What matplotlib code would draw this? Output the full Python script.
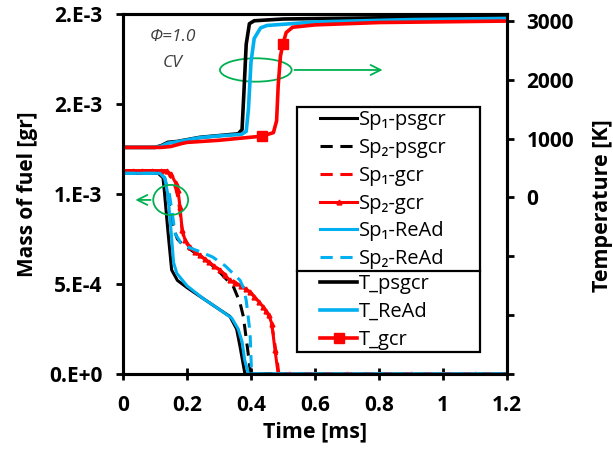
import matplotlib
matplotlib.use("Agg")
import matplotlib.pyplot as plt
from matplotlib.patches import Ellipse, Rectangle
from matplotlib.lines import Line2D
from matplotlib.ticker import FixedLocator, FuncFormatter

plt.rcParams['font.family'] = ['Open Sans', 'DejaVu Sans']

# ---- fuel mass [gr] vs time [ms] ----
t_sp1_psgcr = [0, 0.11, 0.125, 0.13, 0.14, 0.152, 0.17, 0.20, 0.25, 0.30, 0.334, 0.355, 0.366, 0.375, 0.381, 1.2]
m_sp1_psgcr = [1.115e-3, 1.115e-3, 1.09e-3, 1.0e-3, 0.8e-3, 0.578e-3, 0.52e-3, 0.48e-3, 0.42e-3,
               0.36e-3, 0.32e-3, 0.25e-3, 0.15e-3, 0.06e-3, 0.0, 0.0]

t_sp2_psgcr = [0, 0.11, 0.13, 0.14, 0.15, 0.16, 0.17, 0.183, 0.22, 0.26, 0.30, 0.345, 0.365, 0.376, 0.39, 0.399, 1.2]
m_sp2_psgcr = [1.115e-3, 1.115e-3, 1.09e-3, 1.0e-3, 0.88e-3, 0.80e-3, 0.75e-3, 0.726e-3, 0.68e-3,
               0.633e-3, 0.57e-3, 0.485e-3, 0.40e-3, 0.32e-3, 0.13e-3, 0.0, 0.0]

t_sp1_gcr = [0, 0.12, 0.14, 0.155, 0.165, 0.172, 0.178, 0.185, 0.192, 0.21, 0.25, 0.30, 0.35, 0.40,
             0.44, 0.46, 0.47, 0.48, 0.487, 1.2]
m_sp1_gcr = [1.13e-3, 1.13e-3, 1.12e-3, 1.08e-3, 1.03e-3, 0.98e-3, 0.90e-3, 0.80e-3, 0.74e-3, 0.70e-3,
             0.645e-3, 0.58e-3, 0.51e-3, 0.45e-3, 0.37e-3, 0.31e-3, 0.22e-3, 0.10e-3, 0.0, 0.0]

t_sp2_gcr = [0, 0.03, 0.06, 0.09, 0.12, 0.136, 0.15, 0.165, 0.172, 0.178, 0.185, 0.194, 0.209, 0.225,
             0.24, 0.255, 0.27, 0.285, 0.303, 0.318, 0.334, 0.35, 0.37, 0.385, 0.397, 0.41, 0.425,
             0.438, 0.447, 0.455, 0.465, 0.475, 0.485, 0.52, 0.6, 0.7, 0.8, 0.9, 1.0, 1.1, 1.2]
m_sp2_gcr = [1.13e-3, 1.13e-3, 1.13e-3, 1.13e-3, 1.13e-3, 1.13e-3, 1.11e-3, 1.06e-3, 1.02e-3, 0.93e-3,
             0.80e-3, 0.744e-3, 0.707e-3, 0.68e-3, 0.66e-3, 0.64e-3, 0.62e-3, 0.60e-3, 0.578e-3,
             0.55e-3, 0.52e-3, 0.505e-3, 0.49e-3, 0.47e-3, 0.457e-3, 0.43e-3, 0.40e-3, 0.374e-3,
             0.35e-3, 0.33e-3, 0.28e-3, 0.133e-3, 0.0, 0.0, 0.0, 0.0, 0.0, 0.0, 0.0, 0.0, 0.0]

t_sp1_read = [0, 0.115, 0.13, 0.14, 0.15, 0.158, 0.168, 0.20, 0.25, 0.30, 0.34, 0.36, 0.372, 0.38, 0.392, 1.2]
m_sp1_read = [1.115e-3, 1.115e-3, 1.09e-3, 1.0e-3, 0.8e-3, 0.62e-3, 0.56e-3, 0.49e-3, 0.42e-3,
              0.36e-3, 0.31e-3, 0.25e-3, 0.18e-3, 0.08e-3, 0.0, 0.0]

t_sp2_read = [0, 0.115, 0.13, 0.145, 0.155, 0.163, 0.18, 0.20, 0.24, 0.28, 0.32, 0.366, 0.376, 0.385,
              0.397, 0.402, 1.2]
m_sp2_read = [1.115e-3, 1.115e-3, 1.09e-3, 1.0e-3, 0.88e-3, 0.78e-3, 0.73e-3, 0.707e-3, 0.68e-3,
              0.65e-3, 0.60e-3, 0.52e-3, 0.48e-3, 0.41e-3, 0.23e-3, 0.0, 0.0]

# ---- temperature [K] vs time [ms] ----
t_T_psgcr = [0, 0.10, 0.12, 0.14, 0.17, 0.24, 0.30, 0.36, 0.372, 0.378, 0.385, 0.395, 0.41, 0.5, 0.8, 1.2]
T_psgcr = [849, 849, 880, 935, 950, 1020, 1050, 1080, 1150, 1800, 2600, 2950, 3000, 3030, 3050, 3065]

t_T_read = [0, 0.10, 0.12, 0.14, 0.17, 0.24, 0.30, 0.37, 0.385, 0.392, 0.40, 0.41, 0.43, 0.45, 0.6, 0.9, 1.2]
T_read = [849, 849, 870, 920, 945, 1015, 1045, 1070, 1120, 1500, 2300, 2700, 2880, 2920, 2980, 3020, 3040]

t_T_gcr = [0, 0.12, 0.15, 0.18, 0.20, 0.30, 0.434, 0.47, 0.48, 0.485, 0.492, 0.50, 0.51, 0.53, 0.6, 0.8, 1.2]
T_gcr = [849, 849, 865, 910, 934, 970, 1040, 1100, 1300, 1900, 2400, 2610, 2800, 2890, 2930, 2970, 2995]
T_gcr_marks = [6, 11]

x_ticks = [0, 0.2, 0.4, 0.6, 0.8, 1.0, 1.2]
x_ticklabels = ['0', '0.2', '0.4', '0.6', '0.8', '1', '1.2']
m_ticks = [0, 5e-4, 1e-3, 1.5e-3, 2e-3]
m_ticklabels = ['0.E+0', '5.E-4', '1.E-3', '2.E-3', '2.E-3']
T_ticks = [-3000, -2000, -1000, 0, 1000, 2000, 3000]

BLUE = '#00B0F0'
RED = '#FF0000'
GREEN = '#00B050'
LW = 2.2

fig = plt.figure(figsize=(6.13, 4.51), dpi=100)
ax = fig.add_axes([123 / 613, 77 / 451, 384 / 613, 360 / 451])
ax2 = ax.twinx()

h = []
h += ax.plot(t_sp1_psgcr, m_sp1_psgcr, color='black', lw=LW, label='Sp\u2081-psgcr')
h += ax.plot(t_sp2_psgcr, m_sp2_psgcr, color='black', lw=LW, dashes=(4, 2.5), label='Sp\u2082-psgcr')
h += ax.plot(t_sp1_gcr, m_sp1_gcr, color=RED, lw=LW, dashes=(4, 2.5), label='Sp\u2081-gcr')
h += ax.plot(t_sp2_gcr, m_sp2_gcr, color=RED, lw=LW, marker='^', ms=3.5, label='Sp\u2082-gcr')
h += ax.plot(t_sp1_read, m_sp1_read, color=BLUE, lw=LW, label='Sp\u2081-ReAd')
h += ax.plot(t_sp2_read, m_sp2_read, color=BLUE, lw=LW, dashes=(4, 2.5), label='Sp\u2082-ReAd')

g = []
g += ax2.plot(t_T_psgcr, T_psgcr, color='black', lw=LW + 0.4, label='T_psgcr')
g += ax2.plot(t_T_read, T_read, color=BLUE, lw=LW + 0.4, label='T_ReAd')
g += ax2.plot(t_T_gcr, T_gcr, color=RED, lw=LW + 0.4, marker='s', ms=7,
              markevery=T_gcr_marks, label='T_gcr')

ax.set_xlim(0, 1.2)
ax.set_ylim(0, 2e-3)
ax2.set_ylim(-3000, 3115)

ax.xaxis.set_major_locator(FixedLocator(x_ticks))
ax.set_xticklabels(x_ticklabels)
ax.yaxis.set_major_locator(FixedLocator(m_ticks))
ax.set_yticklabels(m_ticklabels)
ax2.yaxis.set_major_locator(FixedLocator(T_ticks))
ax2.yaxis.set_major_formatter(FuncFormatter(lambda v, p: '%d' % v if v >= 0 else ''))

for a in (ax, ax2):
    for s in a.spines.values():
        s.set_linewidth(2.2)
ax.tick_params(axis='x', direction='inout', length=8, width=2, labelsize=15, pad=11)
ax.tick_params(axis='y', direction='out', length=5, width=2, labelsize=15, pad=10)
ax2.tick_params(axis='y', direction='out', length=5, width=2, labelsize=15, pad=9)
for lab in ax.get_xticklabels() + ax.get_yticklabels() + ax2.get_yticklabels():
    lab.set_fontweight('bold')

ax.set_xlabel('Time [ms]', fontsize=15.5, fontweight='bold')
ax.set_ylabel('Mass of fuel [gr]', fontsize=15, fontweight='bold')
ax2.set_ylabel('Temperature [K]', fontsize=15.5, fontweight='bold', rotation=90)
ax.xaxis.set_label_coords(0.5, -0.131)
ax.yaxis.set_label_coords(-0.221, 0.5)
ax2.yaxis.set_label_coords(1.221, 0.467)

# annotations
ax.text(0.156, 1.872e-3, '\u03a6=1.0', style='italic', fontsize=12.5, color='#404040', ha='center', va='center')
ax.text(0.156, 1.728e-3, 'CV', style='italic', fontsize=12.5, color='#404040', ha='center', va='center')
ax.add_patch(Ellipse((0.415, 1.689e-3), 0.224, 0.13e-3, fill=False, ec=GREEN, lw=1.3, zorder=5))
ax.annotate('', xy=(0.82, 1.689e-3), xytext=(0.527, 1.689e-3),
            arrowprops=dict(arrowstyle='->', color=GREEN, lw=1.3, mutation_scale=18))
ax.add_patch(Ellipse((0.149, 0.967e-3), 0.109, 0.167e-3, fill=False, ec=GREEN, lw=1.3, zorder=5))
ax.annotate('', xy=(0.03, 0.967e-3), xytext=(0.095, 0.967e-3),
            arrowprops=dict(arrowstyle='->', color=GREEN, lw=1.3, mutation_scale=18))

# legend box (drawn in figure pixels), split into two stacked legends
W, H = 613.0, 451.0
box_l, box_r, box_t, box_m, box_b = 297, 480, 107, 271, 352
fig.add_artist(Rectangle((box_l / W, 1 - box_b / H), (box_r - box_l) / W, (box_b - box_t) / H,
                         transform=fig.transFigure, fill=True, fc='white', ec='black', lw=1.6, zorder=10))
fig.add_artist(Line2D([box_l / W, box_r / W], [1 - box_m / H, 1 - box_m / H],
                      transform=fig.transFigure, color='black', lw=1.6, zorder=11))

leg_kw = dict(loc='upper left', bbox_transform=fig.transFigure, frameon=False,
              fontsize=14.5, handlelength=1.85, handletextpad=0.1,
              borderaxespad=0, borderpad=0.0, labelspacing=0.39)
leg1 = fig.legend(handles=h, bbox_to_anchor=((box_l + 23) / W, 1 - (box_t + 3) / H), **leg_kw)
leg1.set_zorder(12)
leg2 = fig.legend(handles=g, bbox_to_anchor=((box_l + 23) / W, 1 - (box_m + 3) / H), **leg_kw)
leg2.set_zorder(12)

fig.savefig('out.png', dpi=100)
